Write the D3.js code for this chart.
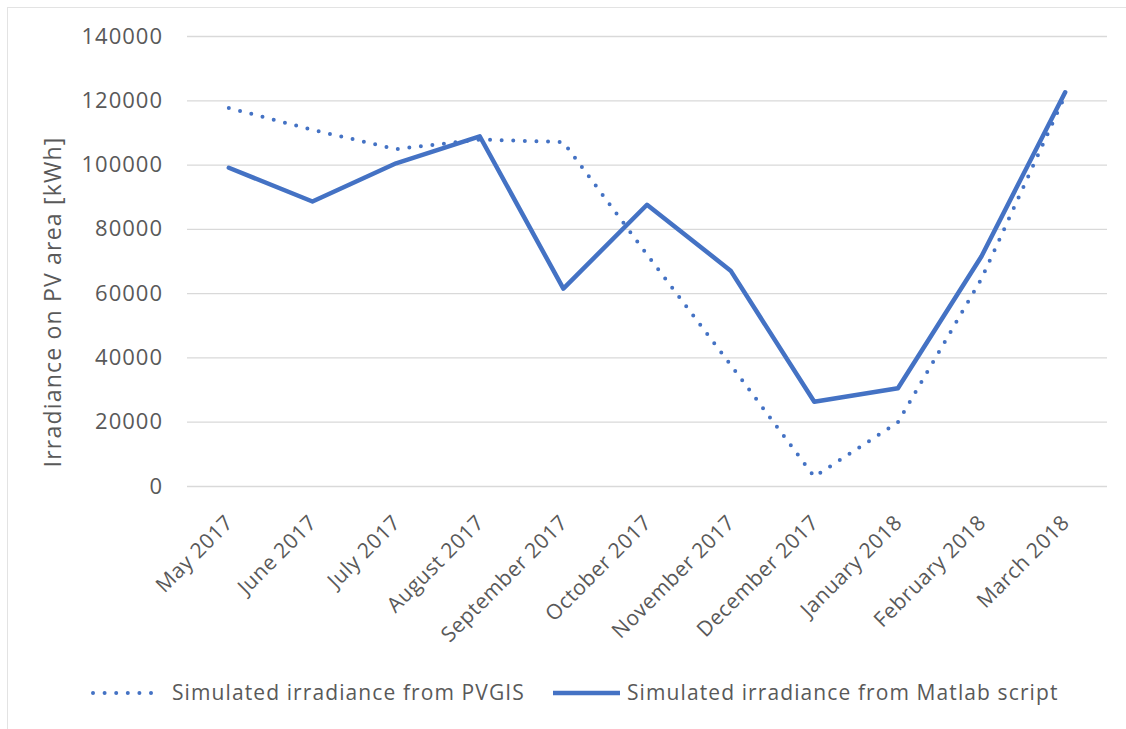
<!DOCTYPE html>
<html>
<head>
<meta charset="utf-8">
<script src="https://cdn.jsdelivr.net/npm/d3@7"></script>
<style>
  html, body { margin: 0; padding: 0; background: #fff; }
  svg { display: block; }
  text { font-family: "Open Sans", "Noto Sans", sans-serif; fill: #595959; }
</style>
</head>
<body>
<svg id="chart" width="1126" height="729"></svg>
<script>
// Monthly irradiance on the PV area, kWh
const months = ["May 2017", "June 2017", "July 2017", "August 2017", "September 2017",
  "October 2017", "November 2017", "December 2017", "January 2018", "February 2018", "March 2018"];
const pvgis  = [117600, 110800, 104800, 107800, 107000, 72000, 37700, 2900, 19800, 64500, 121500];
const matlab = [99000, 88500, 100400, 108800, 61400, 87500, 67000, 26200, 30400, 71500, 122500];
const yTicks = [0, 20000, 40000, 60000, 80000, 100000, 120000, 140000];
const seriesNames = ["Simulated irradiance from PVGIS", "Simulated irradiance from Matlab script"];

const svg = d3.select("#chart");
const blue = "#4472C4";
const grid = "#d9d9d9";

// outer chart frame
svg.append("rect")
  .attr("x", 7.5).attr("y", 7.5)
  .attr("width", 1130).attr("height", 730)
  .attr("fill", "none").attr("stroke", "#e3e3e3").attr("stroke-width", 1);

const plot = { left: 187, right: 1107, top: 36, bottom: 486 };

const x = d3.scalePoint()
  .domain(months)
  .range([plot.left, plot.right])
  .padding(0.5);

const y = d3.scaleLinear()
  .domain([0, 140000])
  .range([plot.bottom, plot.top]);

// horizontal gridlines + value labels
const yAxis = d3.axisLeft(y)
  .tickValues(yTicks)
  .tickSize(-(plot.right - plot.left))
  .tickPadding(24)
  .tickFormat(d3.format("d"));

const gy = svg.append("g")
  .attr("transform", `translate(${plot.left},0)`)
  .call(yAxis);
gy.select(".domain").remove();
gy.selectAll(".tick line").attr("stroke", grid).attr("stroke-width", 1.3);
gy.selectAll(".tick text")
  .attr("font-size", 22)
  .attr("letter-spacing", "1px")
  .attr("fill", "#595959")
  .style("font-family", "'Open Sans', sans-serif");

// category labels, rotated
const xAxis = d3.axisBottom(x).tickSize(0).tickPadding(0);
const gx = svg.append("g")
  .attr("transform", `translate(0,${plot.bottom})`)
  .call(xAxis);
gx.select(".domain").remove();
gx.selectAll(".tick text")
  .attr("font-size", 21)
  .attr("letter-spacing", "0.5px")
  .attr("fill", "#595959")
  .style("font-family", "'Open Sans', sans-serif")
  .attr("text-anchor", "end")
  .attr("dy", null)
  .attr("y", 0)
  .attr("transform", "translate(5,38) rotate(-45)");

// y-axis title
svg.append("text")
  .attr("transform", `translate(61,302) rotate(-90)`)
  .attr("text-anchor", "middle")
  .attr("font-size", 23)
  .attr("letter-spacing", "1.2px")
  .text("Irradiance on PV area [kWh]");

const line = d3.line()
  .x((d, i) => x(months[i]))
  .y(d => y(d));

// PVGIS series (round dots)
svg.append("path")
  .datum(pvgis)
  .attr("d", line)
  .attr("fill", "none")
  .attr("stroke", blue)
  .attr("stroke-width", 4)
  .attr("stroke-linecap", "round")
  .attr("stroke-dasharray", "0 11.6");

// Matlab series (solid)
svg.append("path")
  .datum(matlab)
  .attr("d", line)
  .attr("fill", "none")
  .attr("stroke", blue)
  .attr("stroke-width", 4.5)
  .attr("stroke-linejoin", "round")
  .attr("stroke-linecap", "round");

// legend
const legY = 693;
const leg = svg.append("g");
leg.append("line")
  .attr("x1", 93).attr("x2", 156).attr("y1", legY).attr("y2", legY)
  .attr("stroke", blue).attr("stroke-width", 4)
  .attr("stroke-linecap", "round").attr("stroke-dasharray", "0 11.6");
leg.append("text")
  .attr("x", 172).attr("y", legY + 7)
  .attr("font-size", 21)
  .attr("letter-spacing", "1.1px")
  .text(seriesNames[0]);
leg.append("line")
  .attr("x1", 553).attr("x2", 620).attr("y1", legY).attr("y2", legY)
  .attr("stroke", blue).attr("stroke-width", 4.5);
leg.append("text")
  .attr("x", 627).attr("y", legY + 7)
  .attr("font-size", 21)
  .attr("letter-spacing", "1.1px")
  .text(seriesNames[1]);
</script>
</body>
</html>
